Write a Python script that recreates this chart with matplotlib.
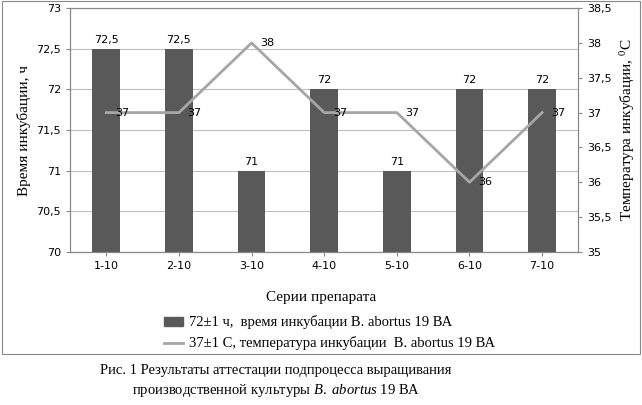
import matplotlib
matplotlib.use("Agg")
import matplotlib.pyplot as plt
from matplotlib.patches import Rectangle
from matplotlib.ticker import FuncFormatter

series = ["1-10", "2-10", "3-10", "4-10", "5-10", "6-10", "7-10"]
hours = [72.5, 72.5, 71, 72, 71, 72, 72]
temps = [37, 37, 38, 37, 37, 36, 37]

plt.rcParams['mathtext.fontset'] = 'custom'
plt.rcParams['mathtext.it'] = 'Liberation Serif:italic'
plt.rcParams['mathtext.rm'] = 'Liberation Serif'

def comma(v, pos):
    s = ('%g' % v).replace('.', ',')
    return s

fig = plt.figure(figsize=(6.42, 4.05), dpi=100)
fig.patches.append(Rectangle((0.003, 0.125), 0.994, 0.872, transform=fig.transFigure,
                             fill=False, edgecolor='#888888', lw=0.8))
ax = fig.add_axes([0.109, 0.378, 0.792, 0.602])
ax2 = ax.twinx()
x = range(len(series))
bars = ax.bar(x, hours, width=0.38, color='#595959', zorder=2)
ax.set_ylim(70, 73)
ax.set_yticks([70 + 0.5 * i for i in range(7)])
ax.yaxis.set_major_formatter(FuncFormatter(comma))
ax.grid(axis='y', color='#bfbfbf', lw=0.8, zorder=0)
ax.set_xlim(-0.5, len(series) - 0.5)
ax.set_xticks(list(x))
ax.set_xticklabels(series)
for xi, h in zip(x, hours):
    ax.text(xi, h + 0.05, comma(h, 0), ha='center', va='bottom', fontsize=8)

ax2.plot(list(x), temps, color='#a6a6a6', lw=2)
ax2.set_ylim(35, 38.5)
ax2.set_yticks([35 + 0.5 * i for i in range(8)])
ax2.yaxis.set_major_formatter(FuncFormatter(comma))
for xi, t in zip(x, temps):
    ax2.text(xi + 0.12, t, str(t), ha='left', va='center', fontsize=8)

for a in (ax, ax2):
    a.tick_params(labelsize=8, length=3, color='#888888')
    for s in a.spines.values():
        s.set_color('#888888')

serif = 'Liberation Serif'
ax.set_ylabel("Время инкубации, ч", fontsize=11, family=serif)
ax2.set_ylabel("Температура инкубации, $^0$С", fontsize=11, family=serif)
fig.text(0.5, 0.265, "Серии препарата", ha='center', va='center', fontsize=11, family=serif)

fig.patches.append(Rectangle((0.255, 0.195), 0.03, 0.022, transform=fig.transFigure,
                             color='#595959'))
fig.text(0.295, 0.206, "72±1 ч,  время инкубации B. abortus 19 ВА", va='center',
         fontsize=10.5, family=serif)
fig.lines.append(plt.Line2D([0.255, 0.285], [0.152, 0.152], transform=fig.transFigure,
                            color='#a6a6a6', lw=2))
fig.text(0.295, 0.152, "37±1 С, температура инкубации  B. abortus 19 ВА", va='center',
         fontsize=10.5, family=serif)

fig.text(0.43, 0.085, "Рис. 1 Результаты аттестации подпроцесса выращивания",
         ha='center', va='center', fontsize=10.5, family=serif)
fig.text(0.43, 0.035, r"производственной культуры $\it{B.\ abortus}$ 19 ВА",
         ha='center', va='center', fontsize=10.5, family=serif)

fig.savefig("out.png", dpi=100)
